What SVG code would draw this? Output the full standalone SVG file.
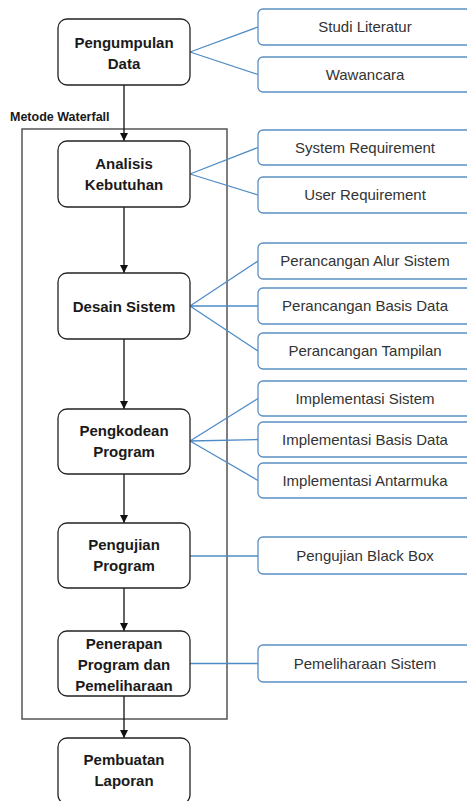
<svg xmlns="http://www.w3.org/2000/svg" width="467" height="801" viewBox="0 0 467 801">
<style>
.node rect{fill:#fff;stroke:#222;stroke-width:1.3}
.node text{font-family:"Liberation Sans",Arial,sans-serif;font-weight:bold;font-size:15px;fill:#1a1a1a;text-anchor:middle}
.sub rect{fill:#fff;stroke:#5b8fc2;stroke-width:1.3}
.sub text{font-family:"Liberation Sans",Arial,sans-serif;font-size:15px;fill:#333;text-anchor:middle}
.flow{stroke:#111;stroke-width:1.3;fill:none}
.blue{stroke:#4f8cc6;stroke-width:1.3;fill:none}
</style>
<defs>
<marker id="ah" viewBox="0 0 10 10" refX="10" refY="5" markerWidth="8" markerHeight="8" markerUnits="userSpaceOnUse" orient="auto">
<path d="M0,0 L10,5 L0,10 Z" fill="#111"/>
</marker>
</defs>
<rect width="467" height="801" fill="#fff"/>
<g id="container">
<rect x="22" y="129" width="205" height="590" fill="none" stroke="#555" stroke-width="1.5"/>
<text x="10" y="121" font-family="Liberation Sans,Arial,sans-serif" font-weight="bold" font-size="12.5" fill="#1a1a1a">Metode Waterfall</text>
</g>
<g id="connectors">
<line class="flow" x1="124" y1="85" x2="124" y2="141" marker-end="url(#ah)"/>
<line class="flow" x1="124" y1="207" x2="124" y2="273" marker-end="url(#ah)"/>
<line class="flow" x1="124" y1="339" x2="124" y2="409" marker-end="url(#ah)"/>
<line class="flow" x1="124" y1="474" x2="124" y2="523" marker-end="url(#ah)"/>
<line class="flow" x1="124" y1="588" x2="124" y2="631" marker-end="url(#ah)"/>
<line class="flow" x1="124" y1="696" x2="124" y2="738" marker-end="url(#ah)"/>
<path class="blue" d="M190,52 L258,27 M190,52 L258,74.5"/>
<path class="blue" d="M190,174 L258,147.5 M190,174 L258,195"/>
<path class="blue" d="M190,306 L258,261 M190,306 L258,306 M190,306 L258,351"/>
<path class="blue" d="M190,441 L258,398.5 M190,441 L258,439.5 M190,441 L258,480.5"/>
<path class="blue" d="M190,556 L258,556"/>
<path class="blue" d="M190,663.5 L258,663.5"/>
</g>
<g id="pengumpulan" class="node"><rect x="58" y="19" width="132" height="66" rx="9"/><text x="124" y="47.5">Pengumpulan</text><text x="124" y="68.5">Data</text></g>
<g id="analisis" class="node"><rect x="58" y="141" width="132" height="66" rx="9"/><text x="124" y="169">Analisis</text><text x="124" y="190">Kebutuhan</text></g>
<g id="desain" class="node"><rect x="58" y="273" width="132" height="66" rx="9"/><text x="124" y="311.5">Desain Sistem</text></g>
<g id="pengkodean" class="node"><rect x="58" y="409" width="132" height="65" rx="9"/><text x="124" y="436">Pengkodean</text><text x="124" y="457">Program</text></g>
<g id="pengujian" class="node"><rect x="58" y="523" width="132" height="65" rx="9"/><text x="124" y="550">Pengujian</text><text x="124" y="571">Program</text></g>
<g id="penerapan" class="node"><rect x="58" y="631" width="132" height="65" rx="9"/><text x="124" y="648.5">Penerapan</text><text x="124" y="669.5">Program dan</text><text x="124" y="690.5">Pemeliharaan</text></g>
<g id="pembuatan" class="node"><rect x="58" y="738" width="132" height="66" rx="9"/><text x="124" y="765">Pembuatan</text><text x="124" y="786">Laporan</text></g>
<g id="studi" class="sub"><rect x="258" y="9" width="214" height="36" rx="5"/><text x="365" y="32">Studi Literatur</text></g>
<g id="wawancara" class="sub"><rect x="258" y="57" width="214" height="35" rx="5"/><text x="365" y="79.5">Wawancara</text></g>
<g id="sysreq" class="sub"><rect x="258" y="130" width="214" height="35" rx="5"/><text x="365" y="152.5">System Requirement</text></g>
<g id="userreq" class="sub"><rect x="258" y="177" width="214" height="36" rx="5"/><text x="365" y="200">User Requirement</text></g>
<g id="alur" class="sub"><rect x="258" y="243" width="214" height="36" rx="5"/><text x="365" y="266">Perancangan Alur Sistem</text></g>
<g id="basisdata" class="sub"><rect x="258" y="288" width="214" height="36" rx="5"/><text x="365" y="311">Perancangan Basis Data</text></g>
<g id="tampilan" class="sub"><rect x="258" y="333" width="214" height="36" rx="5"/><text x="365" y="356">Perancangan Tampilan</text></g>
<g id="implsistem" class="sub"><rect x="258" y="381" width="214" height="35" rx="5"/><text x="365" y="403.5">Implementasi Sistem</text></g>
<g id="implbasis" class="sub"><rect x="258" y="422" width="214" height="35" rx="5"/><text x="365" y="444.5">Implementasi Basis Data</text></g>
<g id="implantar" class="sub"><rect x="258" y="463" width="214" height="35" rx="5"/><text x="365" y="485.5">Implementasi Antarmuka</text></g>
<g id="blackbox" class="sub"><rect x="258" y="537" width="214" height="37" rx="5"/><text x="365" y="560.5">Pengujian Black Box</text></g>
<g id="pemeliharaan" class="sub"><rect x="258" y="645" width="214" height="37" rx="5"/><text x="365" y="668.5">Pemeliharaan Sistem</text></g>
</svg>
